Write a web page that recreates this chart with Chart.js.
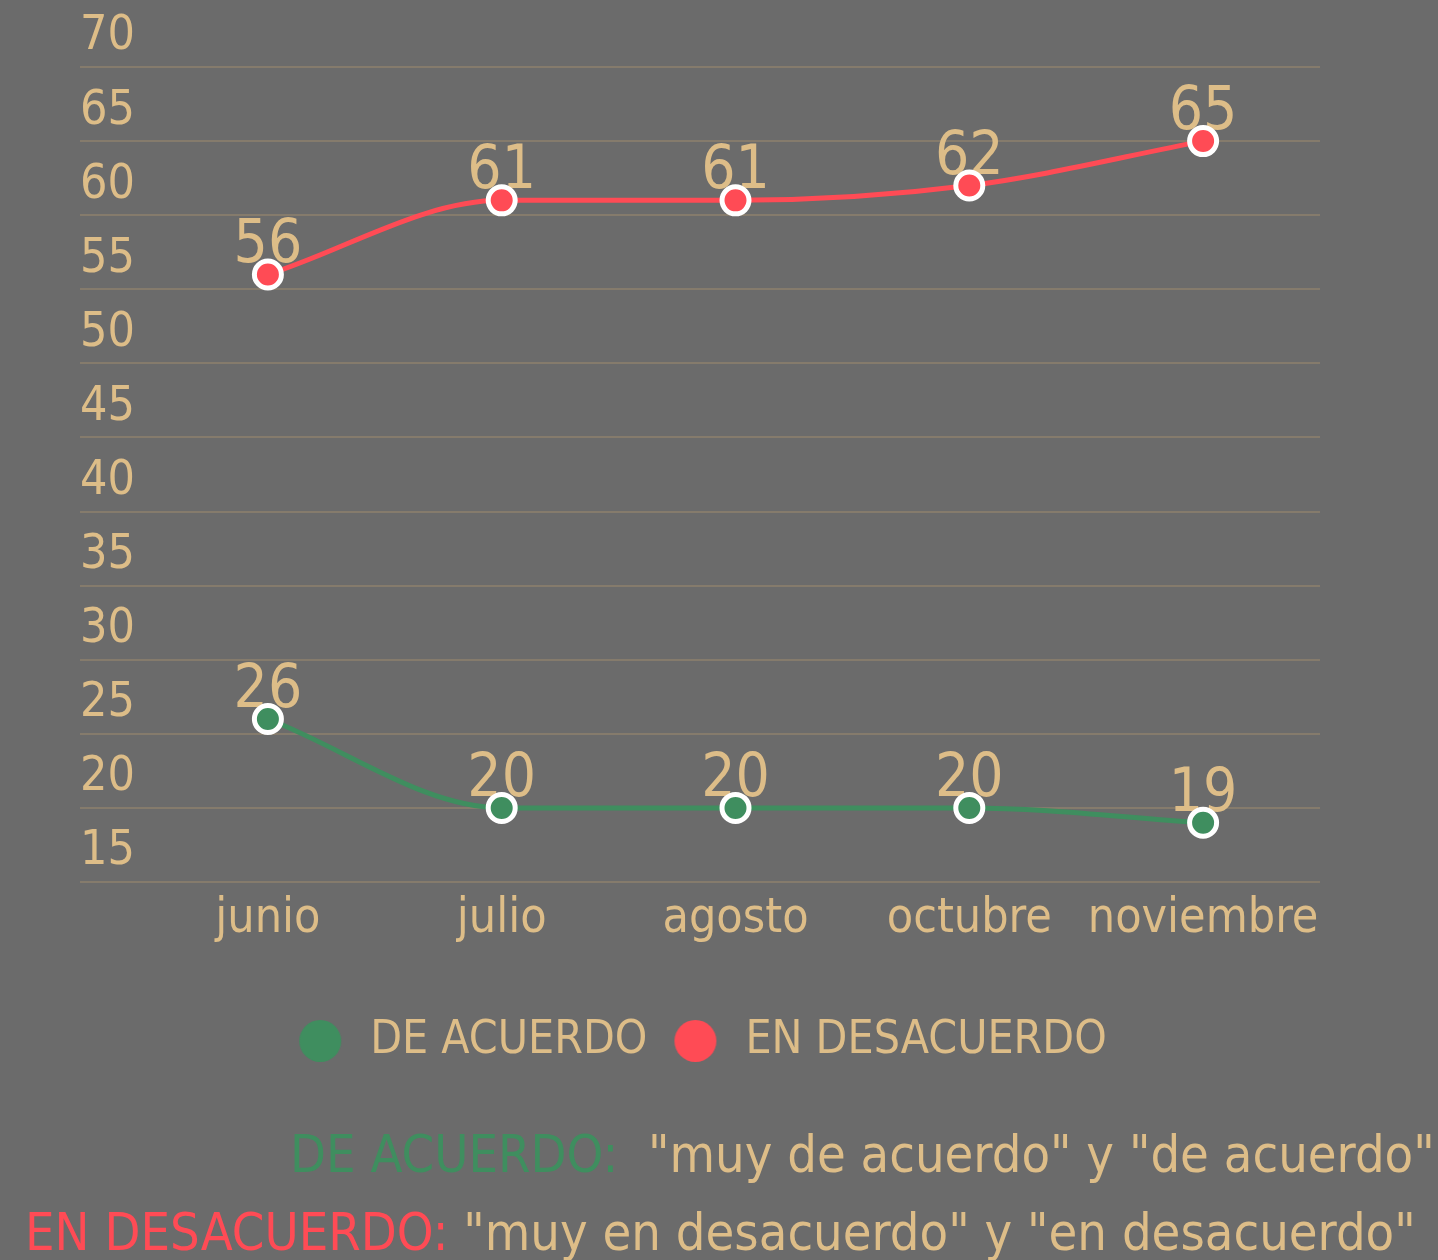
<!DOCTYPE html>
<html>
<head>
<meta charset="utf-8">
<script src="https://cdn.jsdelivr.net/npm/chart.js@4/dist/chart.umd.min.js"></script>
<style>
  html, body { margin: 0; padding: 0; background: #6b6b6b; overflow: hidden; }
  #wrap { position: relative; width: 1438px; height: 1260px; }
  #chart { position: absolute; left: 0; top: 0; }
  .note { position: absolute; font-family: "DejaVu Sans Condensed", "DejaVu Sans", sans-serif; font-size: 52px; line-height: 52px; white-space: pre; color: #ddbd88; }
  .green { color: #3f8e5f; }
  .red { color: #ff4b55; }
</style>
</head>
<body>
<div id="wrap">
  <canvas id="chart" width="1438" height="1090"></canvas>
  <div class="note" style="left:290px; top:1128px;"><span class="green">DE ACUERDO:</span>  "muy de acuerdo" y "de acuerdo"</div>
  <div class="note" style="left:25px; top:1206px;"><span class="red">EN DESACUERDO:</span> "muy en desacuerdo" y "en desacuerdo"</div>
</div>
<script>
// data
const months = ['junio', 'julio', 'agosto', 'octubre', 'noviembre'];
const deAcuerdo = [26, 20, 20, 20, 19];
const enDesacuerdo = [56, 61, 61, 62, 65];
const yMin = 15, yMax = 70, yStep = 5;

const TAN = '#ddbd88';
const GREEN = '#3f8e5f';
const RED = '#ff4b55';
const GRID = '#857b6c';
const FONT = '"DejaVu Sans Condensed", "DejaVu Sans", sans-serif';

// round marker used in the legend
function dotMarker(color) {
    const c = document.createElement('canvas');
    c.width = 44; c.height = 44;
    const g = c.getContext('2d');
    g.fillStyle = color;
    g.beginPath();
    g.arc(22, 22, 21, 0, Math.PI * 2);
    g.fill();
    return c;
}

// value labels above each point, drawn before points so the markers sit on top
const valueLabels = {
    id: 'valueLabels',
    beforeDatasetsDraw(chart) {
        const ctx = chart.ctx;
        ctx.save();
        ctx.font = '60px ' + FONT;
        ctx.fillStyle = TAN;
        ctx.textAlign = 'center';
        ctx.textBaseline = 'alphabetic';
        chart.data.datasets.forEach((ds, i) => {
            chart.getDatasetMeta(i).data.forEach((pt, j) => {
                ctx.fillText(String(ds.data[j]), pt.x, pt.y - 12);
            });
        });
        ctx.restore();
    }
};

const ctx = document.getElementById('chart').getContext('2d');
new Chart(ctx, {
    type: 'line',
    data: {
        labels: months,
        datasets: [
            {
                label: 'DE ACUERDO',
                data: deAcuerdo,
                borderColor: GREEN,
                backgroundColor: GREEN,
                borderWidth: 5,
                pointRadius: 13.5,
                pointBorderWidth: 5,
                pointBorderColor: '#ffffff',
                pointBackgroundColor: GREEN,
                pointStyle: 'circle',
                cubicInterpolationMode: 'monotone',
                fill: false
            },
            {
                label: 'EN DESACUERDO',
                data: enDesacuerdo,
                borderColor: RED,
                backgroundColor: RED,
                borderWidth: 5,
                pointRadius: 13.5,
                pointBorderWidth: 5,
                pointBorderColor: '#ffffff',
                pointBackgroundColor: RED,
                pointStyle: 'circle',
                cubicInterpolationMode: 'monotone',
                fill: false
            }
        ]
    },
    options: {
        responsive: false,
        animation: false,
        layout: { padding: { top: 67, left: 80, right: 118, bottom: 16 } },
        scales: {
            x: {
                offset: true,
                grid: { display: false },
                border: { display: false },
                ticks: {
                    color: TAN,
                    font: { family: FONT, size: 48 },
                    padding: 1,
                    autoSkip: false,
                    maxRotation: 0,
                    minRotation: 0
                },
                afterFit(scale) { scale.height = 115; }
            },
            y: {
                min: yMin,
                max: yMax,
                grid: { color: GRID, lineWidth: 2, drawTicks: true, tickLength: 71 },
                border: { display: false },
                ticks: {
                    stepSize: yStep,
                    color: TAN,
                    font: { family: FONT, size: 48 },
                    crossAlign: 'far',
                    labelOffset: -30,
                    padding: 0
                },
                afterFit(scale) { scale.width = 71; }
            }
        },
        plugins: {
            legend: {
                position: 'bottom',
                labels: {
                    color: TAN,
                    font: { family: FONT, size: 46 },
                    usePointStyle: true,
                    pointStyleWidth: 54,
                    padding: 21,
                    generateLabels(chart) {
                        return chart.data.datasets.map((ds, i) => ({
                            text: ds.label,
                            fontColor: TAN,
                            pointStyle: dotMarker(ds.borderColor),
                            fillStyle: ds.borderColor,
                            strokeStyle: ds.borderColor,
                            lineWidth: 0,
                            hidden: false,
                            datasetIndex: i
                        }));
                    }
                }
            },
            tooltip: { enabled: false }
        }
    },
    plugins: [valueLabels]
});
</script>
</body>
</html>
